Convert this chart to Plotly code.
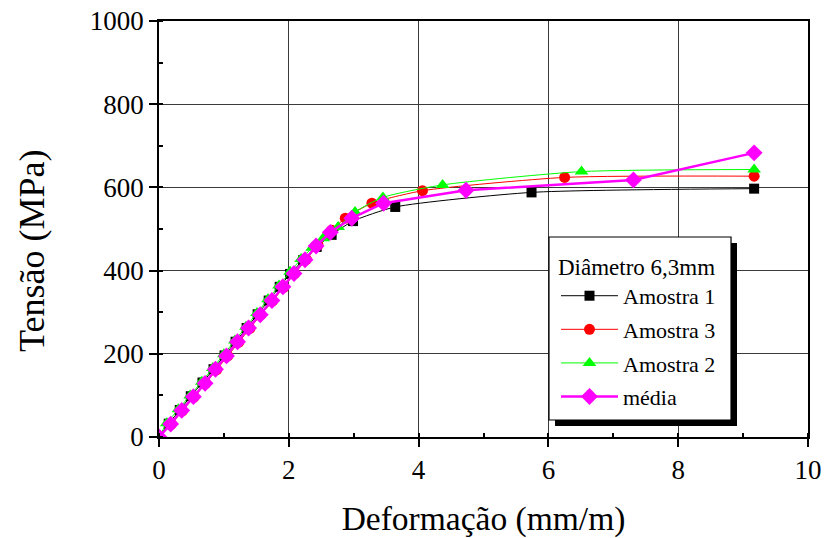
import plotly.graph_objects as go

# --- data ---
a1_x = [0, 0.15, 0.32, 0.49, 0.67, 0.84, 1.01, 1.18, 1.35, 1.52, 1.69, 1.86, 2.02, 2.22, 2.43, 2.66, 2.99, 3.64, 5.74, 9.17]
a1_y = [0, 32, 65, 98, 131, 163, 196, 229, 262, 295, 328, 361, 392, 425, 457, 486, 519, 553, 588, 597]

a3_x = [0, 0.19, 0.36, 0.54, 0.72, 0.89, 1.06, 1.23, 1.40, 1.57, 1.75, 1.92, 2.09, 2.27, 2.45, 2.66, 2.87, 3.28, 4.06, 6.25, 9.17]
a3_y = [0, 31, 63, 96, 129, 162, 195, 228, 261, 294, 327, 360, 393, 427, 461, 497, 526, 562, 592, 624, 627]

a2_x = [0, 0.12, 0.30, 0.48, 0.66, 0.83, 1.00, 1.17, 1.34, 1.51, 1.68, 1.85, 2.02, 2.19, 2.36, 2.53, 2.76, 3.02, 3.45, 4.37, 6.51, 9.17]
a2_y = [0, 33, 67, 100, 133, 166, 199, 232, 265, 298, 331, 364, 397, 428, 455, 478, 505, 541, 576, 606, 638, 643]

med_x = [0, 0.18, 0.35, 0.53, 0.71, 0.87, 1.04, 1.21, 1.38, 1.56, 1.74, 1.91, 2.08, 2.25, 2.42, 2.64, 2.97, 3.46, 4.73, 7.31, 9.17]
med_y = [0, 31, 64, 97, 129, 163, 195, 229, 262, 294, 328, 361, 393, 426, 459, 492, 526, 562, 593, 618, 683]

x_ticks = [0, 2, 4, 6, 8, 10]
y_ticks = [0, 200, 400, 600, 800, 1000]

FONT = "Liberation Serif, Times New Roman, Times, serif"

fig = go.Figure()
fig.add_trace(go.Scatter(x=a1_x, y=a1_y, name="Amostra 1", mode="lines+markers", legendgroup="g1",
                         line=dict(color="#000000", width=1, shape="spline", smoothing=0.6),
                         marker=dict(symbol="square", size=10, color="#000000")))
fig.add_trace(go.Scatter(x=a3_x, y=a3_y, name="Amostra 3", mode="lines+markers", legendgroup="g2",
                         line=dict(color="#ff0000", width=1, shape="spline", smoothing=0.6),
                         marker=dict(symbol="circle", size=11, color="#ff0000")))
fig.add_trace(go.Scatter(x=a2_x, y=a2_y, name="Amostra 2", mode="lines+markers", legendgroup="g3",
                         line=dict(color="#00ff00", width=1, shape="spline", smoothing=0.6),
                         marker=dict(symbol="triangle-up", size=12, color="#00ff00")))
fig.add_trace(go.Scatter(x=med_x, y=med_y, name="média", mode="lines+markers", legendgroup="g4",
                         line=dict(color="#ff00ff", width=2.5),
                         marker=dict(symbol="diamond", size=13, color="#ff00ff")))

axis_common = dict(
    showline=True, linecolor="#000000", linewidth=1.5, mirror=True,
    ticks="outside", ticklen=8, tickwidth=1.5, tickcolor="#000000",
    showgrid=True, gridcolor="#3a3a3a", gridwidth=1,
    zeroline=False, automargin=False,
    tickfont=dict(family=FONT, size=27, color="#000000"),
)

fig.update_xaxes(range=[0, 10], tickvals=x_ticks, ticktext=[str(v) for v in x_ticks],
                 minor=dict(ticks="inside", ticklen=4, dtick=1, tickcolor="#000000", showgrid=False),
                 title=dict(text="Deformação (mm/m)", font=dict(family=FONT, size=33.5, color="#000000"), standoff=22),
                 **axis_common)
fig.update_yaxes(range=[0, 1000], tickvals=y_ticks, ticktext=[str(v) for v in y_ticks],
                 minor=dict(ticks="inside", ticklen=4, dtick=100, tickcolor="#000000", showgrid=False),
                 **axis_common)

# y-axis title (placed like the reference, slightly below centre)
fig.add_annotation(text="Tensão (MPa)", xref="paper", yref="paper",
                   x=-0.1957, y=0.447, xanchor="center", yanchor="middle",
                   textangle=-90, showarrow=False,
                   font=dict(family=FONT, size=36, color="#000000"))

# legend shadow and box
fig.add_shape(type="rect", xref="paper", yref="paper",
              x0=0.6102, x1=0.8906, y0=0.0264, y1=0.4663,
              fillcolor="#000000", line=dict(width=0), layer="above")
fig.add_shape(type="rect", xref="paper", yref="paper",
              x0=0.6009, x1=0.8814, y0=0.0409, y1=0.4808,
              fillcolor="#ffffff", line=dict(color="#000000", width=1.2), layer="above")

fig.update_layout(
    width=826, height=538,
    margin=dict(l=159, r=18, t=21, b=101),
    paper_bgcolor="#ffffff", plot_bgcolor="#ffffff",
    showlegend=True,
    legend=dict(
        title=dict(text="Diâmetro 6,3mm", font=dict(family=FONT, size=23, color="#000000")),
        font=dict(family=FONT, size=22, color="#000000"),
        x=0.6117, y=0.4615, xanchor="left", yanchor="top",
        bgcolor="rgba(0,0,0,0)", borderwidth=0,
        itemwidth=57, tracegroupgap=2, traceorder="grouped",
    ),
)

fig.write_html("out.html")
